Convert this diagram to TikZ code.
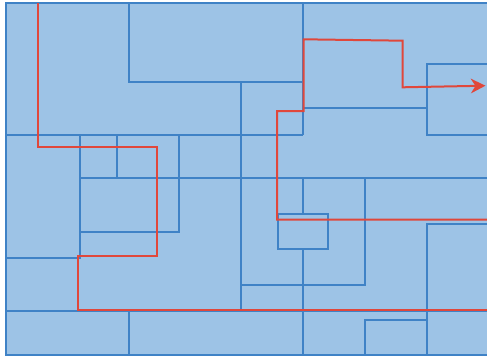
\documentclass[tikz,border=0pt]{standalone}
\usepackage{xcolor}
\usetikzlibrary{arrows.meta}
\definecolor{cellfill}{HTML}{9DC3E6}
\definecolor{wallblue}{HTML}{3F82C6}
\definecolor{routered}{HTML}{E0473B}

\begin{document}
\begin{tikzpicture}[x=0.75pt,y=-0.75pt,line join=miter,
  wall/.style={wallblue,line width=1.5pt},
  route/.style={routered,line width=1.5pt},
  >={Stealth[length=11pt,width=11pt,inset=3.5pt]}]
  % canvas in pixel units of the reference (487 x 357, y downwards)
  \useasboundingbox (0,0) rectangle (487,357);
  \fill[cellfill] (5.7,3) rectangle (487,355);
  \draw[wall] (487,3) -- (5.7,3) -- (5.7,355) -- (487,355);
  % walls of the room partition
  \draw[wall] (129.3,3) -- (129.3,81.7) -- (302.7,81.7);
  \draw[wall] (302.7,3) -- (302.7,135);
  \draw[wall] (241,81.7) -- (241,310);
  \draw[wall] (5.7,135) -- (302.7,135);
  \draw[wall] (80,135) -- (80,258.3) -- (5.7,258.3);
  \draw[wall] (116.7,135) -- (116.7,178);
  \draw[wall] (179,135) -- (179,232) -- (80,232);
  \draw[wall] (80,178) -- (487,178);
  \draw[wall] (487,64) -- (427,64) -- (427,135) -- (487,135);
  \draw[wall] (302.7,108.3) -- (427,108.3);
  \draw[wall] (302.7,178) -- (302.7,214.3);
  \draw[wall] (278,214.3) rectangle (327.7,249.3);
  \draw[wall] (302.7,249.3) -- (302.7,355);
  \draw[wall] (364.7,178) -- (364.7,284.7) -- (241,284.7);
  \draw[wall] (487,223.7) -- (427,223.7) -- (427,355);
  \draw[wall] (364.7,355) -- (364.7,320.3) -- (427,320.3);
  \draw[wall] (5.7,311) -- (487,311);
  \draw[wall] (129.3,311) -- (129.3,355);
  % the route through the rooms
  \draw[route] (38.3,3) -- (38.3,146.7) -- (157.3,146.7) -- (157.3,255.7)
    -- (77.7,255.7) -- (77.7,310) -- (487,310);
  \draw[route,->] (487,219.7) -- (277,219.7) -- (277,111) -- (303.5,111)
    -- (303.5,39.3) -- (402.7,40.7) -- (402.7,87.3) -- (485.5,85.7);
\end{tikzpicture}
\end{document}
